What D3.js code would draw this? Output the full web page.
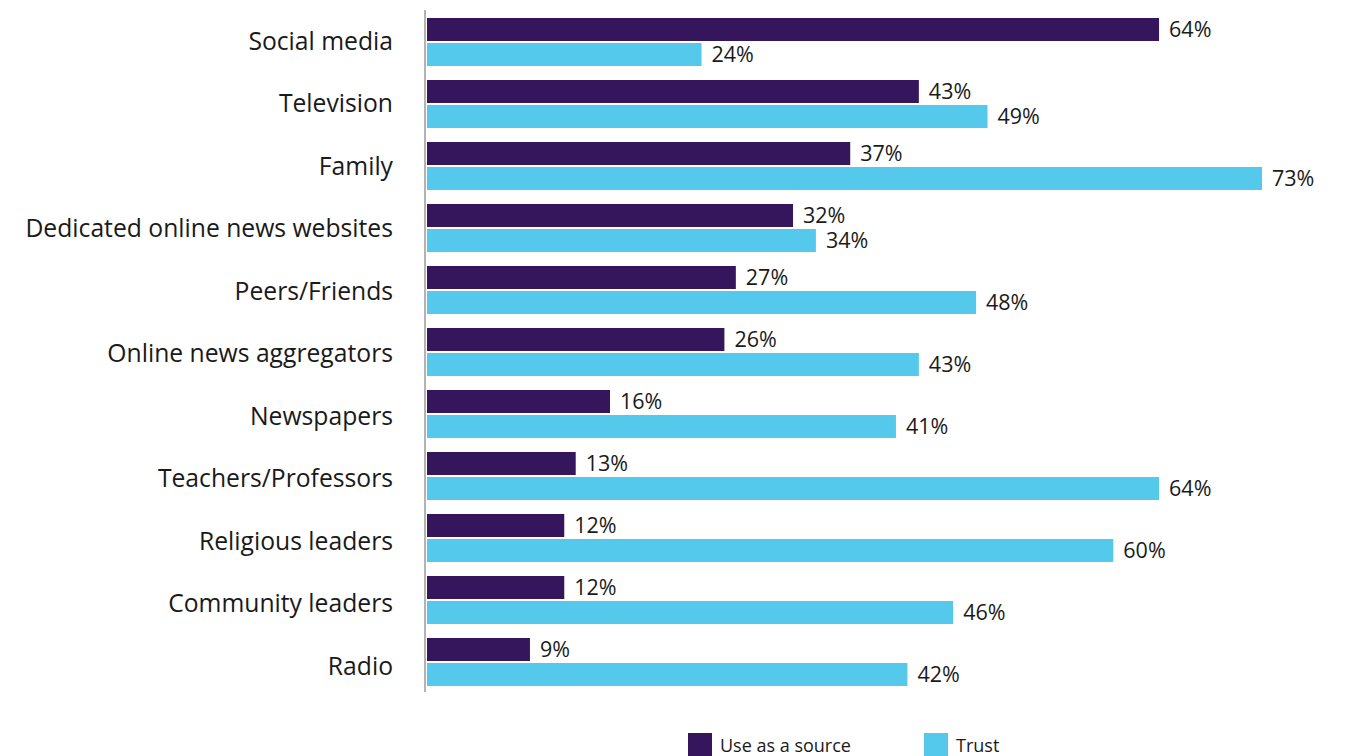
<!DOCTYPE html>
<html>
<head>
<meta charset="utf-8">
<script src="https://cdn.jsdelivr.net/npm/d3@7"></script>
<style>
  html, body { margin: 0; padding: 0; background: #fff; }
  svg { display: block; }
</style>
</head>
<body>
<svg id="chart" width="1348" height="756"></svg>
<script>
// Sources of information: how often used, and how much trusted (%)
const categories = [
  "Social media", "Television", "Family", "Dedicated online news websites",
  "Peers/Friends", "Online news aggregators", "Newspapers", "Teachers/Professors",
  "Religious leaders", "Community leaders", "Radio"
];
const useAsSource = [64, 43, 37, 32, 27, 26, 16, 13, 12, 12, 9];
const trust       = [24, 49, 73, 34, 48, 43, 41, 64, 60, 46, 42];
const seriesNames = ["Use as a source", "Trust"];
const seriesColors = ["#35155b", "#54c9ec"];

const svg = d3.select("#chart");
const font = "'Open Sans', 'Noto Sans', sans-serif";

const x = d3.scaleLinear().domain([0, 73]).range([427, 1262]);

const y = d3.scaleBand()
  .domain(categories)
  .range([18, 18 + 62 * categories.length])
  .paddingInner(0)
  .paddingOuter(0);

// Category labels sit on their own, slightly wider spacing
const yLabel = d3.scalePoint()
  .domain(categories)
  .range([40, 665]);

const sub = d3.scaleBand()
  .domain(seriesNames)
  .range([0, 48])
  .paddingInner(0.08);

const rows = categories.map((c, i) => ({
  cat: c,
  vals: [useAsSource[i], trust[i]]
}));

// Category labels
svg.append("g")
  .selectAll("text")
  .data(categories)
  .join("text")
  .attr("x", 393)
  .attr("y", d => yLabel(d))
  .attr("text-anchor", "end")
  .attr("dominant-baseline", "central")
  .attr("font-family", font)
  .attr("font-size", 24.7)
  .attr("fill", "#1a1a1a")
  .text(d => d);

// Bars and value labels
const groups = svg.append("g")
  .selectAll("g")
  .data(rows)
  .join("g")
  .attr("transform", d => `translate(0,${y(d.cat)})`);

groups.selectAll("rect")
  .data(d => d.vals.map((v, k) => ({ v, k })))
  .join("rect")
  .attr("x", x(0))
  .attr("y", d => sub(seriesNames[d.k]))
  .attr("width", d => x(d.v) - x(0))
  .attr("height", sub.bandwidth())
  .attr("fill", d => seriesColors[d.k]);

groups.selectAll("text")
  .data(d => d.vals.map((v, k) => ({ v, k })))
  .join("text")
  .attr("x", d => x(d.v) + 10)
  .attr("y", d => sub(seriesNames[d.k]) + sub.bandwidth() / 2 - 1)
  .attr("dominant-baseline", "central")
  .attr("font-family", font)
  .attr("font-size", 21.5)
  .attr("fill", "#1a1a1a")
  .text(d => d.v + "%");

// Vertical baseline
svg.append("line")
  .attr("x1", 425).attr("x2", 425)
  .attr("y1", 10).attr("y2", 692)
  .attr("stroke", "#b3b3b3")
  .attr("stroke-width", 2);

// Legend
const legendX = [688, 924];
const legend = svg.append("g")
  .selectAll("g")
  .data(seriesNames)
  .join("g")
  .attr("transform", (d, i) => `translate(${legendX[i]},733)`);

legend.append("rect")
  .attr("width", 24).attr("height", 24)
  .attr("fill", (d, i) => seriesColors[i]);

legend.append("text")
  .attr("x", 32)
  .attr("y", 12)
  .attr("dominant-baseline", "central")
  .attr("font-family", font)
  .attr("font-size", 18)
  .attr("fill", "#1a1a1a")
  .text(d => d);
</script>
</body>
</html>
